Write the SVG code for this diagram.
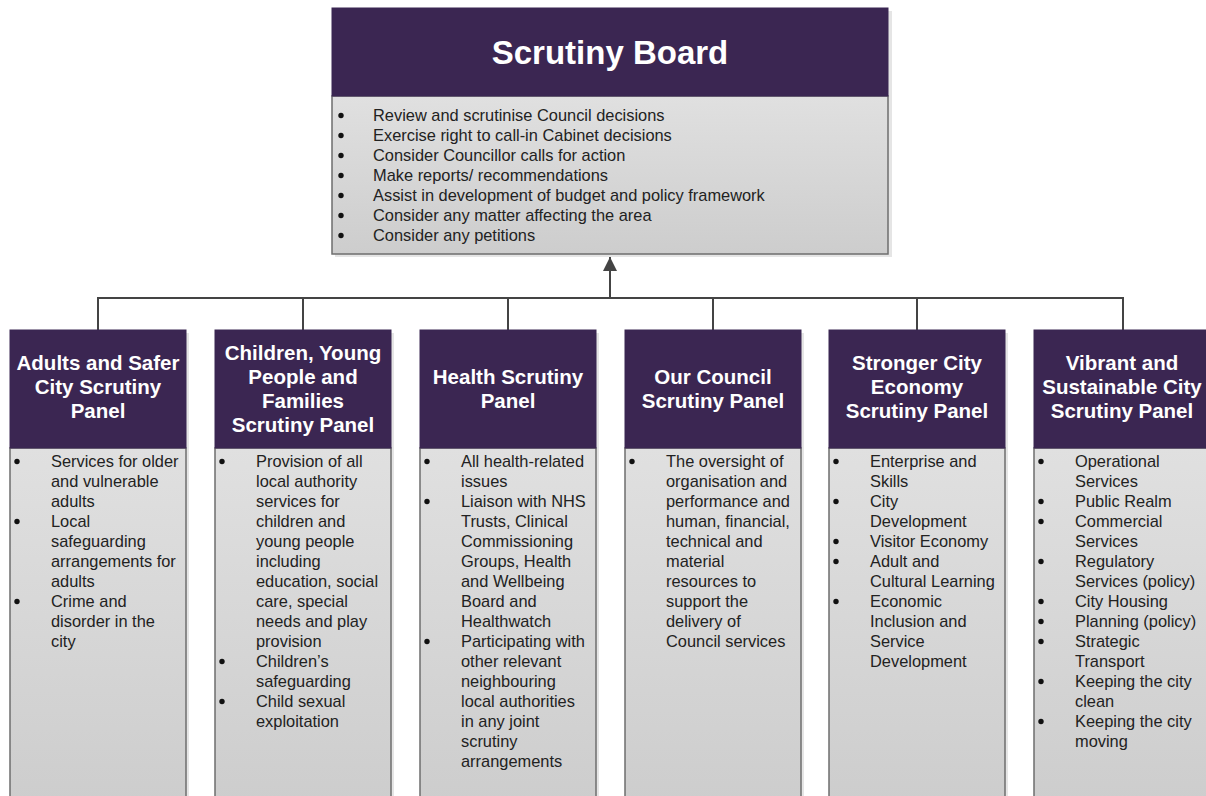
<svg xmlns="http://www.w3.org/2000/svg" width="1206" height="796" viewBox="0 0 1206 796">
<style>
.hdr{fill:#3b2652;stroke:#3b2652;stroke-width:1}
.body{fill:url(#g);stroke:#6e6e6e;stroke-width:1.5}
.shadow{fill:#000;opacity:0.10}
.title{font-family:"Liberation Sans",Arial,sans-serif;font-weight:bold;fill:#fff;text-anchor:middle}
.t{font-family:"Liberation Sans",Arial,sans-serif;font-size:16.4px;fill:#222}
.b circle{fill:#111}
.conn{fill:none;stroke:#444;stroke-width:2}
</style>
<defs>
<linearGradient id="g" x1="0" y1="0" x2="0" y2="1">
<stop offset="0" stop-color="#e0e0e0"/>
<stop offset="1" stop-color="#cdcdcd"/>
</linearGradient>
<marker id="arr" markerWidth="16" markerHeight="16" refX="14" refY="7" orient="auto" markerUnits="userSpaceOnUse" viewBox="0 0 16 14">
<path d="M0,0 L14,7 L0,14 z" fill="#444"/>
</marker>
</defs>
<rect width="1206" height="796" fill="#fff"/>

<g id="connectors">
<path class="conn" d="M98,330 V298 H1123 V330 M303,298 V330 M508,298 V330 M713,298 V330 M917,298 V330"/>
<path class="conn" d="M610,298 V257" marker-end="url(#arr)"/>
</g>

<g id="scrutiny-board">
<rect class="shadow" x="335" y="11" width="557" height="246"/>
<rect class="body" x="332" y="96" width="556" height="158"/>
<rect class="hdr" x="332" y="8" width="556" height="88"/>
<text class="title" x="610" y="64" font-size="33">Scrutiny Board</text>
<g class="b"><circle cx="341" cy="115.5" r="2.7"/><circle cx="341" cy="135.5" r="2.7"/><circle cx="341" cy="155.5" r="2.7"/><circle cx="341" cy="175.5" r="2.7"/><circle cx="341" cy="195.5" r="2.7"/><circle cx="341" cy="215.5" r="2.7"/><circle cx="341" cy="235.5" r="2.7"/></g>
<g class="t">
<text x="373" y="121">Review and scrutinise Council decisions</text>
<text x="373" y="141">Exercise right to call-in Cabinet decisions</text>
<text x="373" y="161">Consider Councillor calls for action</text>
<text x="373" y="181">Make reports/ recommendations</text>
<text x="373" y="201">Assist in development of budget and policy framework</text>
<text x="373" y="221">Consider any matter affecting the area</text>
<text x="373" y="241">Consider any petitions</text>
</g>
</g>

<g id="panel-adults">
<rect class="shadow" x="13" y="333" width="176" height="470"/>
<rect class="body" x="10" y="448" width="176" height="355"/>
<rect class="hdr" x="10" y="330" width="176" height="118"/>
<g class="title" font-size="20.5"><text x="98" y="370">Adults and Safer</text><text x="98" y="394">City Scrutiny</text><text x="98" y="418">Panel</text></g>
<g class="b"><circle cx="17" cy="461.5" r="2.7"/><circle cx="17" cy="521.5" r="2.7"/><circle cx="17" cy="601.5" r="2.7"/></g>
<g class="t">
<text x="51" y="467">Services for older</text>
<text x="51" y="487">and vulnerable</text>
<text x="51" y="507">adults</text>
<text x="51" y="527">Local</text>
<text x="51" y="547">safeguarding</text>
<text x="51" y="567">arrangements for</text>
<text x="51" y="587">adults</text>
<text x="51" y="607">Crime and</text>
<text x="51" y="627">disorder in the</text>
<text x="51" y="647">city</text>
</g>
</g>

<g id="panel-children">
<rect class="shadow" x="218" y="333" width="176" height="470"/>
<rect class="body" x="215" y="448" width="176" height="355"/>
<rect class="hdr" x="215" y="330" width="176" height="118"/>
<g class="title" font-size="20.5"><text x="303" y="360">Children, Young</text><text x="303" y="384">People and</text><text x="303" y="408">Families</text><text x="303" y="432">Scrutiny Panel</text></g>
<g class="b"><circle cx="222" cy="461.5" r="2.7"/><circle cx="222" cy="661.5" r="2.7"/><circle cx="222" cy="701.5" r="2.7"/></g>
<g class="t">
<text x="256" y="467">Provision of all</text>
<text x="256" y="487">local authority</text>
<text x="256" y="507">services for</text>
<text x="256" y="527">children and</text>
<text x="256" y="547">young people</text>
<text x="256" y="567">including</text>
<text x="256" y="587">education, social</text>
<text x="256" y="607">care, special</text>
<text x="256" y="627">needs and play</text>
<text x="256" y="647">provision</text>
<text x="256" y="667">Children’s</text>
<text x="256" y="687">safeguarding</text>
<text x="256" y="707">Child sexual</text>
<text x="256" y="727">exploitation</text>
</g>
</g>

<g id="panel-health">
<rect class="shadow" x="423" y="333" width="176" height="470"/>
<rect class="body" x="420" y="448" width="176" height="355"/>
<rect class="hdr" x="420" y="330" width="176" height="118"/>
<g class="title" font-size="20.5"><text x="508" y="384">Health Scrutiny</text><text x="508" y="408">Panel</text></g>
<g class="b"><circle cx="427" cy="461.5" r="2.7"/><circle cx="427" cy="501.5" r="2.7"/><circle cx="427" cy="641.5" r="2.7"/></g>
<g class="t">
<text x="461" y="467">All health-related</text>
<text x="461" y="487">issues</text>
<text x="461" y="507">Liaison with NHS</text>
<text x="461" y="527">Trusts, Clinical</text>
<text x="461" y="547">Commissioning</text>
<text x="461" y="567">Groups, Health</text>
<text x="461" y="587">and Wellbeing</text>
<text x="461" y="607">Board and</text>
<text x="461" y="627">Healthwatch</text>
<text x="461" y="647">Participating with</text>
<text x="461" y="667">other relevant</text>
<text x="461" y="687">neighbouring</text>
<text x="461" y="707">local authorities</text>
<text x="461" y="727">in any joint</text>
<text x="461" y="747">scrutiny</text>
<text x="461" y="767">arrangements</text>
</g>
</g>

<g id="panel-council">
<rect class="shadow" x="628" y="333" width="176" height="470"/>
<rect class="body" x="625" y="448" width="176" height="355"/>
<rect class="hdr" x="625" y="330" width="176" height="118"/>
<g class="title" font-size="20.5"><text x="713" y="384">Our Council</text><text x="713" y="408">Scrutiny Panel</text></g>
<g class="b"><circle cx="632" cy="461.5" r="2.7"/></g>
<g class="t">
<text x="666" y="467">The oversight of</text>
<text x="666" y="487">organisation and</text>
<text x="666" y="507">performance and</text>
<text x="666" y="527">human, financial,</text>
<text x="666" y="547">technical and</text>
<text x="666" y="567">material</text>
<text x="666" y="587">resources to</text>
<text x="666" y="607">support the</text>
<text x="666" y="627">delivery of</text>
<text x="666" y="647">Council services</text>
</g>
</g>

<g id="panel-economy">
<rect class="shadow" x="832" y="333" width="176" height="470"/>
<rect class="body" x="829" y="448" width="176" height="355"/>
<rect class="hdr" x="829" y="330" width="176" height="118"/>
<g class="title" font-size="20.5"><text x="917" y="370">Stronger City</text><text x="917" y="394">Economy</text><text x="917" y="418">Scrutiny Panel</text></g>
<g class="b"><circle cx="836" cy="461.5" r="2.7"/><circle cx="836" cy="501.5" r="2.7"/><circle cx="836" cy="541.5" r="2.7"/><circle cx="836" cy="561.5" r="2.7"/><circle cx="836" cy="601.5" r="2.7"/></g>
<g class="t">
<text x="870" y="467">Enterprise and</text>
<text x="870" y="487">Skills</text>
<text x="870" y="507">City</text>
<text x="870" y="527">Development</text>
<text x="870" y="547">Visitor Economy</text>
<text x="870" y="567">Adult and</text>
<text x="870" y="587">Cultural Learning</text>
<text x="870" y="607">Economic</text>
<text x="870" y="627">Inclusion and</text>
<text x="870" y="647">Service</text>
<text x="870" y="667">Development</text>
</g>
</g>

<g id="panel-vibrant">
<rect class="shadow" x="1037" y="333" width="176" height="470"/>
<rect class="body" x="1034" y="448" width="176" height="355"/>
<rect class="hdr" x="1034" y="330" width="176" height="118"/>
<g class="title" font-size="20.5"><text x="1122" y="370">Vibrant and</text><text x="1122" y="394">Sustainable City</text><text x="1122" y="418">Scrutiny Panel</text></g>
<g class="b"><circle cx="1041" cy="461.5" r="2.7"/><circle cx="1041" cy="501.5" r="2.7"/><circle cx="1041" cy="521.5" r="2.7"/><circle cx="1041" cy="561.5" r="2.7"/><circle cx="1041" cy="601.5" r="2.7"/><circle cx="1041" cy="621.5" r="2.7"/><circle cx="1041" cy="641.5" r="2.7"/><circle cx="1041" cy="681.5" r="2.7"/><circle cx="1041" cy="721.5" r="2.7"/></g>
<g class="t">
<text x="1075" y="467">Operational</text>
<text x="1075" y="487">Services</text>
<text x="1075" y="507">Public Realm</text>
<text x="1075" y="527">Commercial</text>
<text x="1075" y="547">Services</text>
<text x="1075" y="567">Regulatory</text>
<text x="1075" y="587">Services (policy)</text>
<text x="1075" y="607">City Housing</text>
<text x="1075" y="627">Planning (policy)</text>
<text x="1075" y="647">Strategic</text>
<text x="1075" y="667">Transport</text>
<text x="1075" y="687">Keeping the city</text>
<text x="1075" y="707">clean</text>
<text x="1075" y="727">Keeping the city</text>
<text x="1075" y="747">moving</text>
</g>
</g>
</svg>
